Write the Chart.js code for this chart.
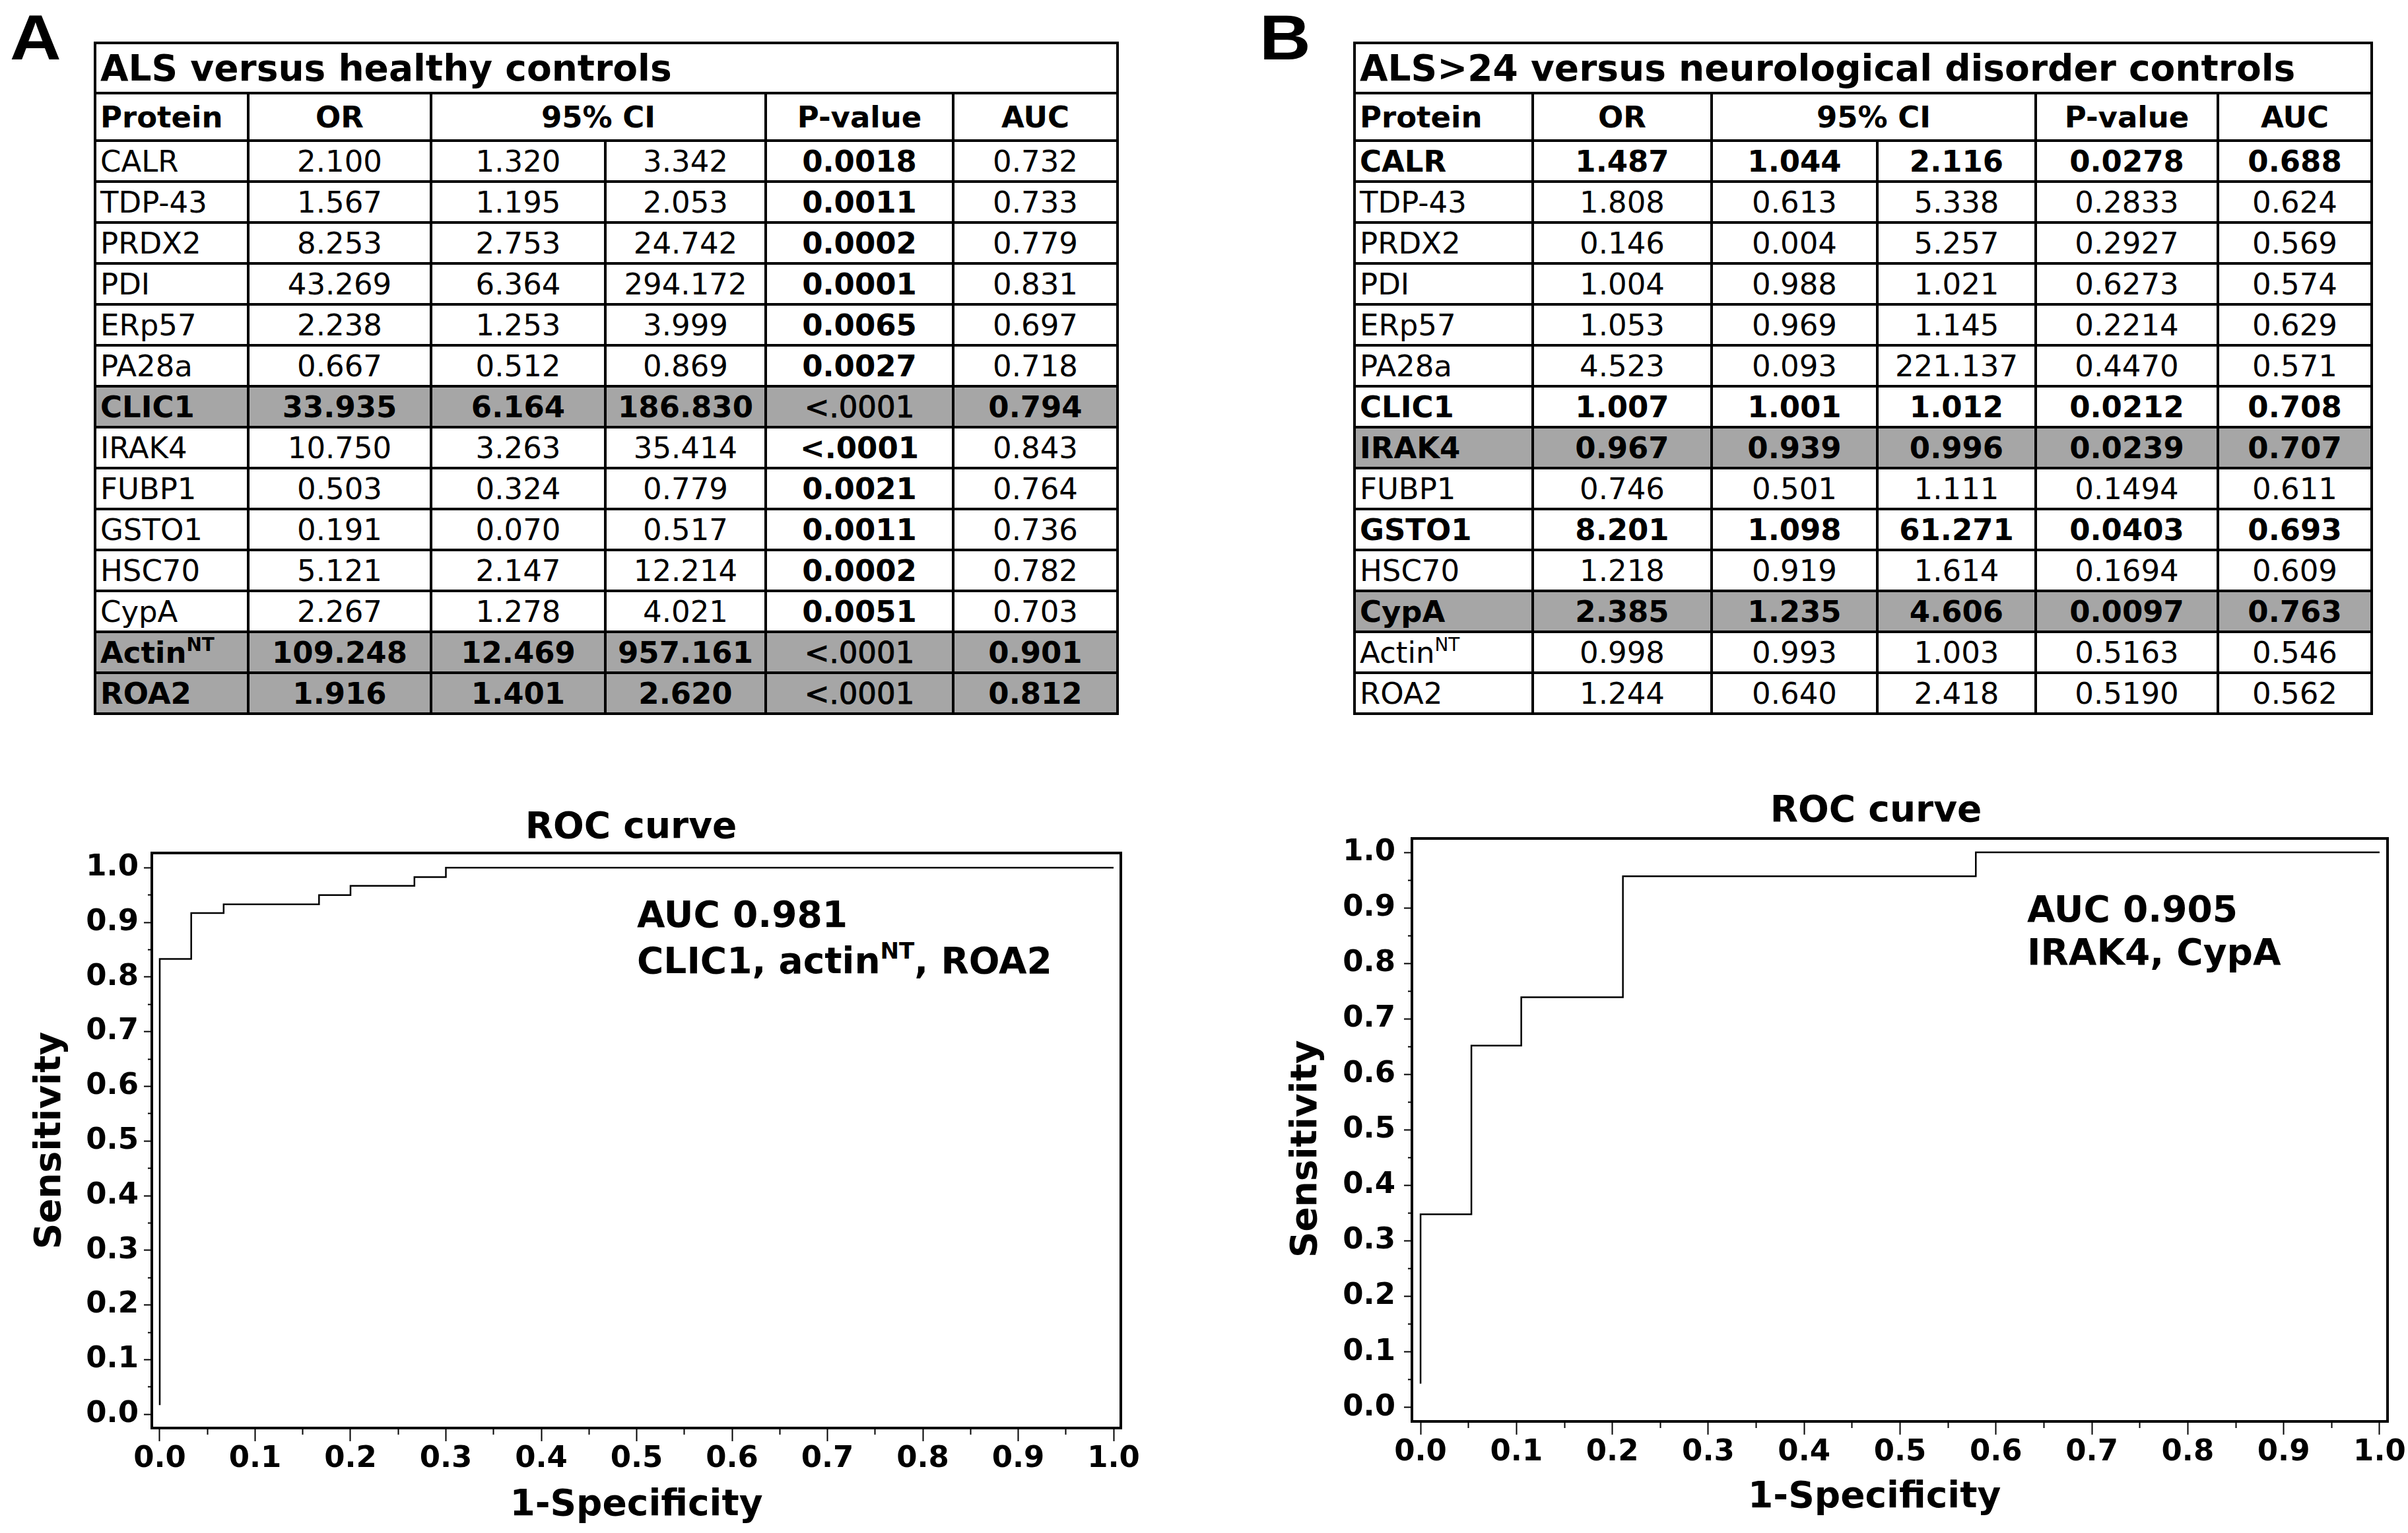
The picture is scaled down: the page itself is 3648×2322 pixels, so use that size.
<!DOCTYPE html>
<html>
<head>
<meta charset="utf-8">
<script src="https://cdn.jsdelivr.net/npm/chart.js@4.4.1/dist/chart.umd.min.js"></script>
<style>
  html, body { margin: 0; padding: 0; background: #fff; overflow: hidden; }
  body { width: 3648px; height: 2322px; position: relative; font-family: 'DejaVu Sans', Verdana, sans-serif; color: #000; }
  .panel { position: absolute; font-family: 'Liberation Sans', Arial, sans-serif; font-weight: bold; font-size: 96px; line-height: 96px; transform: scaleX(1.12); transform-origin: left top; }
  table.tbl { position: absolute; border-collapse: collapse; table-layout: fixed; font-size: 45px; }
  .tbl td { border: 4px solid #000; padding: 0 6px; text-align: center; white-space: nowrap; overflow: hidden; }
  .tbl td.name { text-align: left; }
  .tbl tr.title td { font-size: 55px; font-weight: bold; text-align: left; height: 72px; }
  .tbl tr.head td { font-weight: bold; height: 68px; }
  .tbl tr.row td { height: 58px; }
  .tbl tr.gray td { background: #a6a6a6; }
  .tbl .b { font-weight: bold; }
  .tbl .semi { -webkit-text-stroke: 1px #000; }
  sup { font-size: 62%; line-height: 0; vertical-align: 0.65em; }
  .plot-title { position: absolute; font-weight: bold; font-size: 55px; line-height: 66px; white-space: nowrap; transform: translateX(-50%); }
  .auc { position: absolute; font-weight: bold; font-size: 55px; white-space: nowrap; }
  canvas { position: absolute; }
</style>
</head>
<body>
<div class="panel" style="left:15px;top:9px">A</div>
<div class="panel" style="left:1908px;top:9px">B</div>

<div class="plot-title" style="left:956px;top:1217px">ROC curve</div>
<div class="plot-title" style="left:2842px;top:1192px">ROC curve</div>
<div class="auc" style="left:965px;top:1350px;line-height:70px">AUC 0.981<br>CLIC1, actin<sup>NT</sup>, ROA2</div>
<div class="auc" style="left:3071px;top:1345px;line-height:65px">AUC 0.905<br>IRAK4, CypA</div>

<canvas id="rocA" width="1760" height="1080" style="left:0;top:1242px"></canvas>
<canvas id="rocB" width="1748" height="1102" style="left:1900px;top:1220px"></canvas>

<script>
// table rows (same protein order in both panels)
const proteins = ['CALR', 'TDP-43', 'PRDX2', 'PDI', 'ERp57', 'PA28a', 'CLIC1', 'IRAK4', 'FUBP1', 'GSTO1', 'HSC70', 'CypA', 'ActinNT', 'ROA2'];

// A: ALS versus healthy controls
const orA     = ['2.100', '1.567', '8.253', '43.269', '2.238', '0.667', '33.935', '10.750', '0.503', '0.191', '5.121', '2.267', '109.248', '1.916'];
const ciLowA  = ['1.320', '1.195', '2.753', '6.364', '1.253', '0.512', '6.164', '3.263', '0.324', '0.070', '2.147', '1.278', '12.469', '1.401'];
const ciHighA = ['3.342', '2.053', '24.742', '294.172', '3.999', '0.869', '186.830', '35.414', '0.779', '0.517', '12.214', '4.021', '957.161', '2.620'];
const pA      = ['0.0018', '0.0011', '0.0002', '0.0001', '0.0065', '0.0027', '<.0001', '<.0001', '0.0021', '0.0011', '0.0002', '0.0051', '<.0001', '<.0001'];
const aucA    = ['0.732', '0.733', '0.779', '0.831', '0.697', '0.718', '0.794', '0.843', '0.764', '0.736', '0.782', '0.703', '0.901', '0.812'];
const grayA = ['CLIC1', 'ActinNT', 'ROA2'];

// B: ALS>24 versus neurological disorder controls
const orB     = ['1.487', '1.808', '0.146', '1.004', '1.053', '4.523', '1.007', '0.967', '0.746', '8.201', '1.218', '2.385', '0.998', '1.244'];
const ciLowB  = ['1.044', '0.613', '0.004', '0.988', '0.969', '0.093', '1.001', '0.939', '0.501', '1.098', '0.919', '1.235', '0.993', '0.640'];
const ciHighB = ['2.116', '5.338', '5.257', '1.021', '1.145', '221.137', '1.012', '0.996', '1.111', '61.271', '1.614', '4.606', '1.003', '2.418'];
const pB      = ['0.0278', '0.2833', '0.2927', '0.6273', '0.2214', '0.4470', '0.0212', '0.0239', '0.1494', '0.0403', '0.1694', '0.0097', '0.5163', '0.5190'];
const aucB    = ['0.688', '0.624', '0.569', '0.574', '0.629', '0.571', '0.708', '0.707', '0.611', '0.693', '0.609', '0.763', '0.546', '0.562'];
const boldB = ['CALR', 'CLIC1', 'IRAK4', 'GSTO1', 'CypA'];
const grayB = ['IRAK4', 'CypA'];

// ROC curves (1-specificity, sensitivity)
const fprA = [0, 0, 0.033, 0.067, 0.167, 0.200, 0.267, 0.300, 1.0];
const tprA = [0.017, 0.833, 0.917, 0.933, 0.950, 0.967, 0.983, 1.0, 1.0];
const fprB = [0, 0, 0.053, 0.105, 0.211, 0.579, 1.0];
const tprB = [0.043, 0.348, 0.652, 0.739, 0.957, 1.0, 1.0];

const tickLabels = ['0.0', '0.1', '0.2', '0.3', '0.4', '0.5', '0.6', '0.7', '0.8', '0.9', '1.0'];

function nameHtml(n) {
  return n.endsWith('NT') ? n.slice(0, -2) + '<sup>NT</sup>' : n;
}

function buildTable(left, top, widths, title, cols, isBold, isGray, pClass) {
  const t = document.createElement('table');
  t.className = 'tbl';
  t.style.left = left + 'px';
  t.style.top = top + 'px';
  t.style.width = widths.reduce((a, b) => a + b, 0) + 'px';
  let html = '<colgroup>' + widths.map(w => `<col style="width:${w}px">`).join('') + '</colgroup>';
  html += `<tr class="title"><td colspan="6">${title}</td></tr>`;
  html += '<tr class="head"><td class="name">Protein</td><td>OR</td><td colspan="2">95% CI</td><td>P-value</td><td>AUC</td></tr>';
  proteins.forEach((p, i) => {
    const b = isBold(p) ? ' b' : '';
    html += `<tr class="row${isGray(p) ? ' gray' : ''}">` +
      `<td class="name${b}">${nameHtml(p)}</td>` +
      `<td class="${b}">${cols[0][i]}</td><td class="${b}">${cols[1][i]}</td><td class="${b}">${cols[2][i]}</td>` +
      `<td class="${pClass(p)}">${cols[3][i].replace('<', '&lt;')}</td><td class="${b}">${cols[4][i]}</td></tr>`;
  });
  t.innerHTML = html;
  document.body.appendChild(t);
}

buildTable(142, 63, [232, 277, 264, 243, 284, 249], 'ALS versus healthy controls',
  [orA, ciLowA, ciHighA, pA, aucA],
  p => grayA.includes(p), p => grayA.includes(p), p => grayA.includes(p) ? 'semi' : 'b');

buildTable(2050, 63, [270, 271, 251, 240, 276, 233], 'ALS&gt;24 versus neurological disorder controls',
  [orB, ciLowB, ciHighB, pB, aucB],
  p => boldB.includes(p), p => grayB.includes(p), p => boldB.includes(p) ? 'b' : '');

// ---- ROC charts ----
Chart.defaults.font.family = "'DejaVu Sans', Verdana, sans-serif";
Chart.defaults.color = '#000';

const majors = tickLabels.map(Number);
const minors = majors.slice(1).map((v, i) => (v + majors[i]) / 2);
const allTicks = majors.concat(minors).sort((a, b) => a - b);
const isMajor = v => majors.some(m => Math.abs(m - v) < 1e-9);
const labelFor = v => {
  const i = majors.findIndex(m => Math.abs(m - v) < 1e-9);
  return i < 0 ? '' : tickLabels[i];
};

const frame = {
  id: 'frame',
  afterDraw(chart) {
    const { ctx, chartArea: a } = chart;
    ctx.save();
    ctx.strokeStyle = '#000';
    ctx.lineWidth = 4;
    ctx.strokeRect(a.left, a.top, a.right - a.left, a.bottom - a.top);
    ctx.restore();
  }
};

function rocChart(id, fpr, tpr, o) {
  new Chart(document.getElementById(id), {
    type: 'line',
    data: {
      datasets: [{
        data: fpr.map((x, i) => ({ x, y: tpr[i] })),
        borderColor: '#000',
        borderWidth: 2.5,
        pointRadius: 0,
        stepped: true,
        fill: false
      }]
    },
    options: {
      responsive: false,
      animation: false,
      devicePixelRatio: 1,
      layout: { padding: o.padding },
      plugins: { legend: { display: false }, tooltip: { enabled: false } },
      scales: {
        x: {
          type: 'linear',
          min: o.xMin, max: o.xMax,
          afterBuildTicks: s => { s.ticks = allTicks.map(v => ({ value: v })); },
          afterFit: s => { s.height = o.xHeight; },
          border: { display: false },
          grid: {
            drawOnChartArea: false, tickLength: 20, tickWidth: 2, tickColor: '#000',
            tickBorderDash: c => (c.tick && !isMajor(c.tick.value)) ? [10, 40] : []
          },
          ticks: {
            autoSkip: false, maxRotation: 0, padding: o.xTickPad,
            font: { size: 45, weight: 'bold' },
            callback: v => labelFor(v)
          },
          title: {
            display: true, text: o.xTitle,
            font: { size: 55, weight: 'bold' },
            padding: { top: 0, bottom: o.xTitlePad }
          }
        },
        y: {
          type: 'linear',
          min: o.yMin, max: o.yMax,
          afterBuildTicks: s => { s.ticks = allTicks.map(v => ({ value: v })); },
          afterFit: s => { s.width = o.yWidth; },
          border: { display: false },
          grid: {
            drawOnChartArea: false, tickLength: 12, tickWidth: 2, tickColor: '#000',
            tickBorderDash: c => (c.tick && !isMajor(c.tick.value)) ? [0, 6, 6, 40] : []
          },
          ticks: {
            autoSkip: false, padding: o.yTickPad,
            font: { size: 45, weight: 'bold' },
            callback: v => labelFor(v)
          },
          title: {
            display: true, text: o.yTitle,
            font: { size: 55, weight: 'bold' },
            padding: { top: o.yTitlePad, bottom: 0 }
          }
        }
      }
    },
    plugins: [frame]
  });
}

rocChart('rocA', fprA, tprA, {
  xMin: -0.0083, xMax: 1.0076, yMin: -0.025, yMax: 1.027,
  padding: { top: 50, right: 62, bottom: 0, left: 0 },
  yWidth: 230, xHeight: 159, xTickPad: 0, yTickPad: 8, xTitlePad: 8, yTitlePad: 44,
  xTitle: '1-Specificity', yTitle: 'Sensitivity'
});

// panel B axis titles sit a little off-centre in the original
rocChart('rocB', fprB, tprB, {
  xMin: -0.009, xMax: 1.0083, yMin: -0.025, yMax: 1.025,
  padding: { top: 50, right: 31, bottom: 0, left: 0 },
  yWidth: 239, xHeight: 169, xTickPad: 0, yTickPad: 13, xTitlePad: 20, yTitlePad: 47,
  xTitle: '1-Specificity    ', yTitle: 'Sensitivity   '
});
</script>
</body>
</html>
